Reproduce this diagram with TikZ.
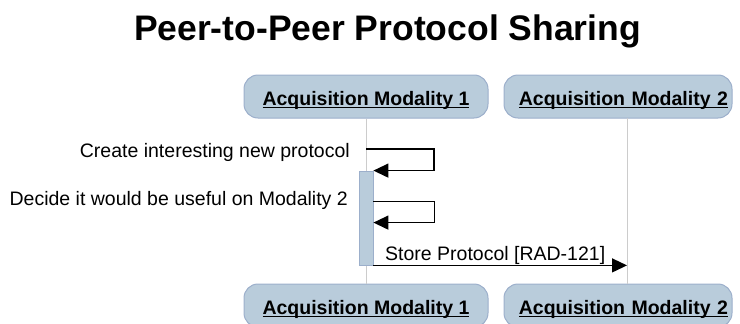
\documentclass[tikz,border=0pt]{standalone}
\usepackage{fontspec}
\setmainfont{Liberation Sans}
\usepackage{tikz}
\usetikzlibrary{arrows.meta,positioning}
\newcommand{\headtext}[1]{\setbox0\hbox{#1}\rlap{\rule[-3.2pt]{\wd0}{1.3pt}}\box0}
\definecolor{boxfill}{HTML}{B9CCDB}
\definecolor{boxline}{HTML}{9CAFCB}
\definecolor{lifeline}{HTML}{CCCCCC}
\tikzset{
  actor/.style = {draw=boxline, fill=boxfill, line width=1pt, rounded corners=14pt,
    minimum width=244pt, minimum height=43pt, text height=17pt, text depth=0pt,
    font=\fontsize{19.5}{22}\selectfont\bfseries},
  actor2/.style = {actor, minimum width=228pt, text width=220pt, inner xsep=4pt, align=right},
  activation/.style = {draw=boxline, fill=boxfill, line width=0.8pt, inner sep=0pt,
    minimum width=14pt, minimum height=94pt},
  msg/.style = {line width=1.3pt, -{Triangle[length=15pt,width=14pt]}},
  msgtext/.style = {font=\fontsize{19.5}{22}\selectfont, inner sep=0pt}
}

\begin{document}
\begin{tikzpicture}[x=1pt, y=-1pt]
  \clip (0,0) rectangle (740,324);

  \node[font=\fontsize{35.5}{40}\selectfont\bfseries, anchor=base] at (387.5,40) (title) {Peer-to-Peer Protocol Sharing};

  \node[actor]  at (366, 96.5) (top1) {\headtext{Acquisition Modality 1}};
  \node[actor2] at (618, 96.5) (top2) {\headtext{Acquisition Modality 2}};
  \node[actor]  at (366,305.5) (bot1) {\headtext{Acquisition Modality 1}};
  \node[actor2] at (618,305.5) (bot2) {\headtext{Acquisition Modality 2}};

  \coordinate (l2top) at (627,118);
  \coordinate (l2bot) at (627,284);

  \draw[lifeline, line width=1pt] (top1) -- (bot1);
  \draw[lifeline, line width=1pt] (l2top) -- (l2bot);

  \node[activation] at (366,218) (act) {};

  \coordinate (self1) at (366,149);
  \draw[msg] (self1) -- ++(68,0) |- (act.north east);
  \node[msgtext, anchor=base east] at (350,157.5) (lab1) {Create interesting new protocol};

  \draw[msg] ([yshift=-31pt]act.north east) -- ++(61,0) |- ([yshift=-52pt]act.north east);
  \node[msgtext, anchor=base east] at (348,205.5) (lab2) {Decide it would be useful on Modality 2};

  \draw[msg] (act.south east) -- (act.south east -| l2top);
  \node[msgtext, anchor=base west] at (385,260.5) (lab3) {Store Protocol [RAD-121]};
\end{tikzpicture}
\end{document}
